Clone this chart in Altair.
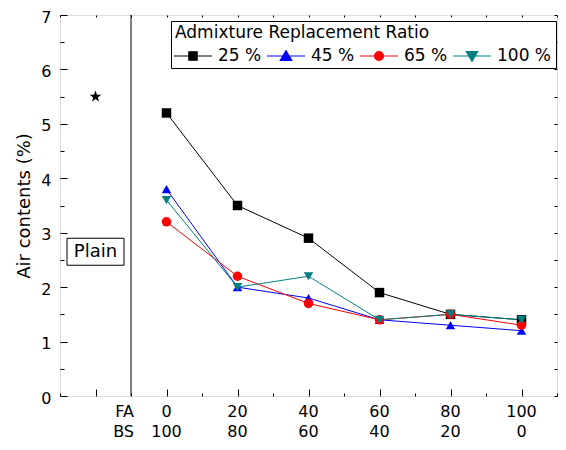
import altair as alt
import pandas as pd

# ---------------- data ----------------
fa_ratio = [0, 20, 40, 60, 80, 100]
bs_ratio = [100, 80, 60, 40, 20, 0]
series_names = ["25 %", "45 %", "65 %", "100 %"]
air_25 = [5.2, 3.5, 2.9, 1.9, 1.5, 1.4]
air_45 = [3.8, 2.0, 1.8, 1.4, 1.3, 1.2]
air_65 = [3.2, 2.2, 1.7, 1.4, 1.5, 1.3]
air_100 = [3.6, 2.0, 2.2, 1.4, 1.5, 1.4]
plain_pos = [-20]
plain_air = [5.5]
plain_label = ["Plain"]
plain_label_air = [2.65]
separator_pos = [-10]
row_labels = ["FA", "BS"]

x_major_ticks = [-20, 0, 20, 40, 60, 80, 100]
x_minor_ticks = [-30, -10, 10, 30, 50, 70, 90, 110]
x_top_ticks = [-30, -20, -10, 0, 10, 20, 30, 40, 50, 60, 70, 80, 90, 100, 110]
y_major_ticks = [0, 1, 2, 3, 4, 5, 6, 7]
y_minor_ticks = [0.5, 1.5, 2.5, 3.5, 4.5, 5.5, 6.5]
y_right_ticks = [0, 0.5, 1, 1.5, 2, 2.5, 3, 3.5, 4, 4.5, 5, 5.5, 6, 6.5, 7]

colors = ["#000000", "#0000ff", "#ff0000", "#008080"]
shapes = ["square", "triangle-up", "circle", "triangle-down"]
legend_paths = [
    "M-1.9,0H1.9M-0.42,-0.42H0.42V0.42H-0.42Z",
    "M-1.9,0H1.9M0,-0.55L0.58,0.45L-0.58,0.45Z",
    "M-1.9,0H1.9M0.45,0A0.45,0.45 0 1,1 -0.45,0A0.45,0.45 0 1,1 0.45,0Z",
    "M-1.9,0H1.9M-0.58,-0.45L0.58,-0.45L0,0.55Z",
]
star_path = ("M0,-1L0.235,-0.324L0.951,-0.309L0.380,0.124L0.588,0.809L0,0.4"
             "L-0.588,0.809L-0.380,0.124L-0.951,-0.309L-0.235,-0.324Z")
box_path = "M-2.85,-1.35H2.85V1.35H-2.85Z"

rows = []
for name, vals in zip(series_names, [air_25, air_45, air_65, air_100]):
    for f, v in zip(fa_ratio, vals):
        rows.append({"series": name, "fa": f, "air": v})
df = pd.DataFrame(rows)
df_plain = pd.DataFrame({"x": plain_pos, "y": plain_air})
df_plain_lab = pd.DataFrame({"x": plain_pos, "y": plain_label_air, "t": plain_label})
df_sep = pd.DataFrame({"x": separator_pos})
df_xlab = pd.DataFrame({"x": fa_ratio, "fa": [str(v) for v in fa_ratio], "bs": [str(v) for v in bs_ratio]})
df_rowlab = pd.DataFrame({"x": separator_pos * 2, "t": row_labels})

W, H = 497, 381
FONT = "DejaVu Sans"
xs = alt.Scale(domain=[-30, 110], nice=False, zero=False)
ys = alt.Scale(domain=[0, 7], nice=False, zero=False)


def tick_axis(orient, values, size):
    return alt.Axis(orient=orient, values=values, tickSize=size, offset=-size,
                    labels=False, domain=False, title=None, grid=False,
                    tickColor="black", tickWidth=1)


left_major = alt.Axis(orient="left", values=y_major_ticks, tickSize=7, offset=-7,
                      domain=False, grid=False, tickColor="black", tickWidth=1,
                      labelFontSize=16, labelPadding=9, labelColor="black", labelFont=FONT,
                      labelOffset=2,
                      title="Air contents (%)", titleFontSize=18, titleFontWeight="normal",
                      titleColor="black", titleFont=FONT, titlePadding=7, format="d")

color_sc = alt.Scale(domain=series_names, range=colors)

lines = alt.Chart(df).mark_line(strokeWidth=1).encode(
    x=alt.X("fa:Q", scale=xs, axis=tick_axis("bottom", x_major_ticks, 7)),
    y=alt.Y("air:Q", scale=ys, axis=left_major),
    color=alt.Color("series:N", scale=color_sc, legend=None),
)

points = alt.Chart(df).mark_point(filled=True, size=90, opacity=1).encode(
    x=alt.X("fa:Q", scale=xs, axis=tick_axis("bottom", x_minor_ticks, 3)),
    y=alt.Y("air:Q", scale=ys, axis=tick_axis("left", y_minor_ticks, 4)),
    color=alt.Color("series:N", scale=color_sc, legend=None),
    shape=alt.Shape("series:N", scale=alt.Scale(domain=series_names, range=shapes), legend=None),
)

leg = alt.Legend(orient="none", legendX=111, legendY=6, direction="horizontal", columns=4,
                 title="Admixture Replacement Ratio", titleFontSize=17, titleFontWeight="normal",
                 titleColor="black", titleFont=FONT, titlePadding=3, titleLimit=500,
                 labelFontSize=17, labelColor="black", labelFont=FONT, labelOffset=14,
                 labelLimit=200,
                 symbolSize=400, symbolStrokeWidth=1.1, symbolOpacity=1, symbolOffset=7,
                 columnPadding=2, strokeColor="black", fillColor="white", padding=4,
                 cornerRadius=0)

legend_layer = alt.Chart(df).mark_point(filled=True, opacity=0, size=400).encode(
    x=alt.X("fa:Q", scale=xs, axis=tick_axis("top", x_top_ticks, 2)),
    y=alt.Y("air:Q", scale=ys, axis=tick_axis("right", y_right_ticks, 3)),
    color=alt.Color("series:N", scale=color_sc, legend=leg),
    stroke=alt.Stroke("series:N", scale=alt.Scale(domain=series_names, range=colors), legend=leg),
    shape=alt.Shape("series:N", scale=alt.Scale(domain=series_names, range=legend_paths), legend=leg),
)

sep = alt.Chart(df_sep).mark_rule(color="black", strokeWidth=1).encode(
    x=alt.X("x:Q", scale=xs, axis=None),
)

star = alt.Chart(df_plain).mark_point(shape=star_path, size=150, filled=True, color="black", opacity=1).encode(
    x=alt.X("x:Q", scale=xs, axis=None),
    y=alt.Y("y:Q", scale=ys, axis=None),
)

plain_box = alt.Chart(df_plain_lab).mark_point(shape=box_path, size=400, filled=True, fill="white",
                                                stroke="black", strokeWidth=1, opacity=1).encode(
    x=alt.X("x:Q", scale=xs, axis=None),
    y=alt.Y("y:Q", scale=ys, axis=None),
)
plain_text = alt.Chart(df_plain_lab).mark_text(fontSize=18, font=FONT, color="black").encode(
    x=alt.X("x:Q", scale=xs, axis=None),
    y=alt.Y("y:Q", scale=ys, axis=None),
    text="t:N",
)

ROW1, ROW2 = H + 16, H + 36
fa_text = alt.Chart(df_xlab).mark_text(fontSize=16, font=FONT, color="black", baseline="middle").encode(
    x=alt.X("x:Q", scale=xs, axis=None), y=alt.value(ROW1), text="fa:N")
bs_text = alt.Chart(df_xlab).mark_text(fontSize=16, font=FONT, color="black", baseline="middle").encode(
    x=alt.X("x:Q", scale=xs, axis=None), y=alt.value(ROW2), text="bs:N")
row_fa = alt.Chart(df_rowlab.iloc[[0]]).mark_text(fontSize=16, font=FONT, color="black", baseline="middle",
                                                  align="right", dx=3).encode(
    x=alt.X("x:Q", scale=xs, axis=None), y=alt.value(ROW1), text="t:N")
row_bs = alt.Chart(df_rowlab.iloc[[1]]).mark_text(fontSize=16, font=FONT, color="black", baseline="middle",
                                                  align="right", dx=3).encode(
    x=alt.X("x:Q", scale=xs, axis=None), y=alt.value(ROW2), text="t:N")

chart = alt.layer(
    sep, lines, points, legend_layer, star, plain_box, plain_text, fa_text, bs_text, row_fa, row_bs
).resolve_axis(x="independent", y="independent").resolve_scale(
    color="independent", shape="independent", stroke="independent"
).properties(
    width=W, height=H,
    autosize=alt.AutoSizeParams(type="none"),
    padding={"left": 52, "top": 7, "right": 1, "bottom": 46},
).configure_view(stroke="black", strokeWidth=1.5).configure(font=FONT, background="white")

chart.save("out.html", embed_options={"renderer": "svg", "actions": False})
